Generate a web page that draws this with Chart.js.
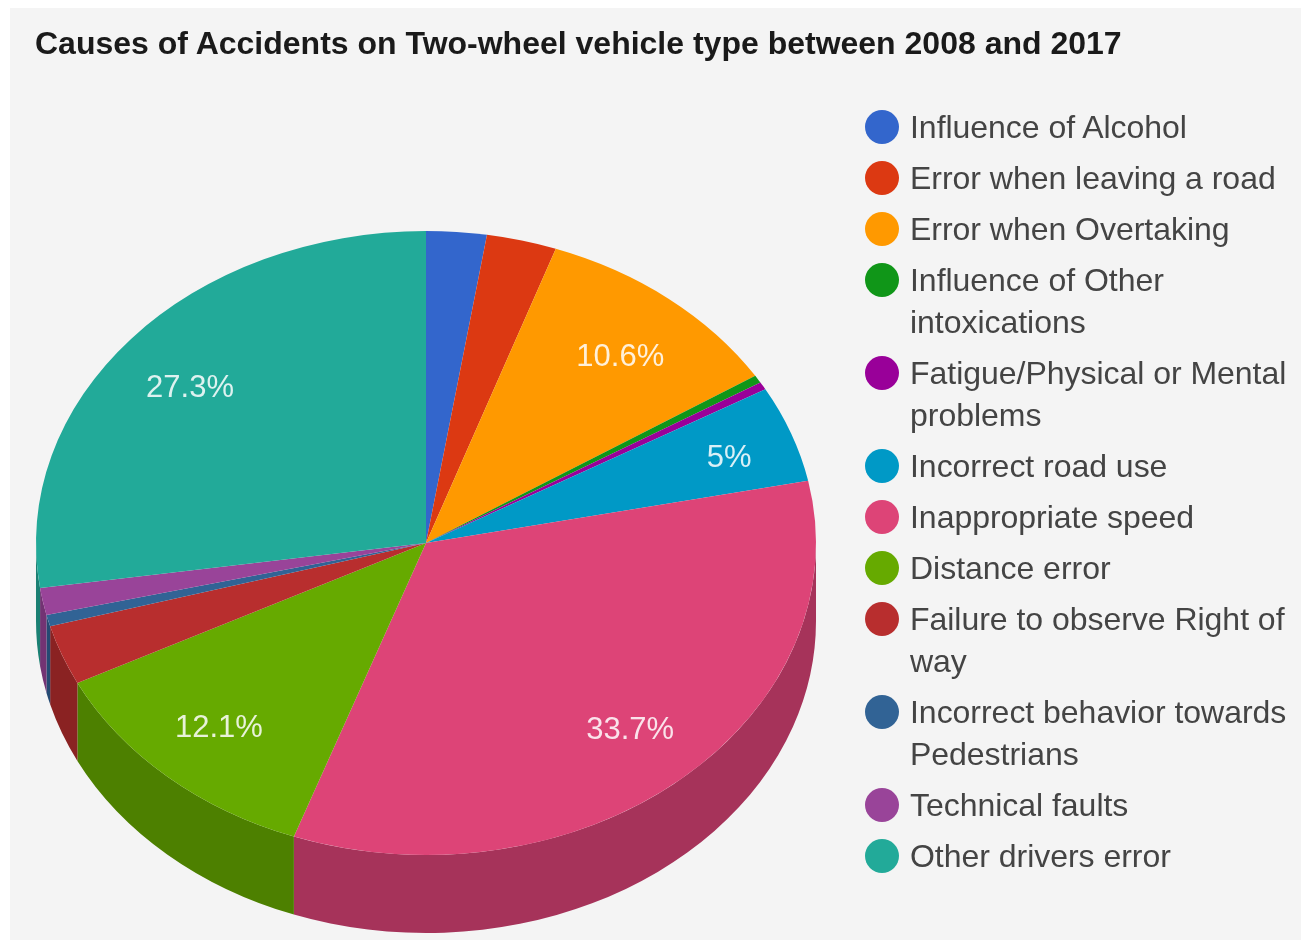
<!DOCTYPE html>
<html>
<head>
<meta charset="utf-8">
<title>Causes of Accidents</title>
<script src="https://cdn.jsdelivr.net/npm/chart.js@4"></script>
<style>
  html, body { margin: 0; padding: 0; background: #fff; }
  #wrap { position: relative; width: 1301px; height: 945px; overflow: hidden; filter: blur(0.7px); }
  #panel { position: absolute; left: 10px; top: 8px; right: -4px; bottom: 5px; background: #f4f4f4; }
  #chart { position: absolute; left: 0; top: 0; }
  #title { position: absolute; left: 35px; top: 25px; margin: 0; white-space: nowrap;
    font: bold 32px/36px Arial, "Liberation Sans", sans-serif; color: #1a1a1a; }
  #legend { position: absolute; left: 865px; top: 106px; width: 436px; margin: 0; padding: 0; list-style: none;
    font: 32px/42px Arial, "Liberation Sans", sans-serif; color: #444; letter-spacing: -0.03px; }
  #legend li { position: relative; padding-left: 45px; margin-bottom: 9px; white-space: pre-line; }
  #legend i { position: absolute; left: 0; top: 4px; width: 34px; height: 34px; border-radius: 50%; }
</style>
</head>
<body>
<div id="wrap">
  <div id="panel"></div>
  <canvas id="chart" width="1301" height="945"></canvas>
  <h1 id="title"></h1>
  <ul id="legend"></ul>
</div>
<script>
const titleText = "Causes of Accidents on Two-wheel vehicle type between 2008 and 2017";
const categories = [
  "Influence of Alcohol",
  "Error when leaving a road",
  "Error when Overtaking",
  "Influence of Other\nintoxications",
  "Fatigue/Physical or Mental\nproblems",
  "Incorrect road use",
  "Inappropriate speed",
  "Distance error",
  "Failure to observe Right of\nway",
  "Incorrect behavior towards\nPedestrians",
  "Technical faults",
  "Other drivers error",
];
const values = [2.5, 2.9, 10.6, 0.4, 0.4, 5, 33.7, 12.1, 3.1, 0.6, 1.4, 27.3];
const labelled = [2, 5, 6, 7, 11];
const colors = ["#3366cc", "#dc3912", "#ff9900", "#109618", "#990099", "#0099c6",
  "#dd4477", "#66aa00", "#b82e2e", "#316395", "#994499", "#22aa99"];
const sideColors = ["#264c99", "#a52b0e", "#bf7300", "#0c7112", "#730073", "#007394",
  "#a6335a", "#4d8000", "#8a2222", "#254a73", "#733373", "#1a8073"];

const squash = 0.8;
const depth = 78;

// pie is circular in chart.js, so the top face gets flattened and a wall drawn under it
const tiltPlugin = {
  id: "tilt",
  beforeDatasetsDraw(chart) {
    const ctx = chart.ctx;
    chart.getDatasetMeta(0).data.forEach((arc, i) => {
      const a = Math.max(arc.startAngle, 0);
      const b = Math.min(arc.endAngle, Math.PI);
      if (b <= a) return;
      const r = arc.outerRadius;
      ctx.beginPath();
      ctx.ellipse(arc.x, arc.y, r, r * squash, 0, a, b);
      ctx.ellipse(arc.x, arc.y + depth, r, r * squash, 0, b, a, true);
      ctx.closePath();
      ctx.fillStyle = sideColors[i];
      ctx.fill();
    });
    const c = chart.getDatasetMeta(0).data[0];
    ctx.save();
    ctx.translate(c.x, c.y);
    ctx.scale(1, squash);
    ctx.translate(-c.x, -c.y);
  },
  afterDatasetsDraw(chart) {
    const ctx = chart.ctx;
    ctx.restore();
    ctx.font = '31px Arial, "Liberation Sans", sans-serif';
    ctx.fillStyle = "rgba(255,255,255,0.85)";
    ctx.textAlign = "center";
    ctx.textBaseline = "middle";
    labelled.forEach((i) => {
      const arc = chart.getDatasetMeta(0).data[i];
      const mid = (arc.startAngle + arc.endAngle) / 2;
      // the narrow slice keeps its label closer to the rim
      const r = arc.outerRadius * (values[i] < 6 ? 0.83 : 0.8);
      ctx.fillText(values[i] + "%", arc.x + Math.cos(mid) * r, arc.y + Math.sin(mid) * r * squash * 0.97 + 4);
    });
  },
};

new Chart(document.getElementById("chart"), {
  type: "pie",
  data: {
    labels: categories,
    datasets: [
      {
        data: values,
        backgroundColor: colors,
        borderWidth: 0,
        clip: false,
      },
    ],
  },
  options: {
    responsive: false,
    animation: false,
    events: [],
    layout: { padding: { left: 36, right: 485, top: 153, bottom: 12 } },
    plugins: {
      legend: { display: false },
      tooltip: { enabled: false },
      title: { display: false },
    },
  },
  plugins: [tiltPlugin],
});

document.getElementById("title").textContent = titleText;

const legendEl = document.getElementById("legend");
categories.forEach((name, i) => {
  const li = document.createElement("li");
  li.innerHTML = `<i style="background:${colors[i]}"></i>${name}`;
  legendEl.appendChild(li);
});
</script>
</body>
</html>
